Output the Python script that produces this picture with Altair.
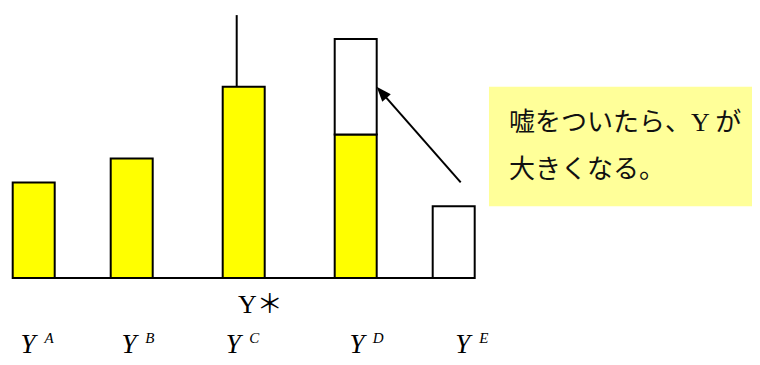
import altair as alt
import pandas as pd

# ---- data ----
CATEGORIES = ["A", "B", "C", "D", "E"]
BAR_POS = [0, 7, 15, 23, 30]          # bar centres (x units)
TRUE_Y = [4, 5, 8, 6, 0]              # yellow (true) part
REPORTED_Y = [4, 5, 8, 10, 3]         # top of bar including the white (lie) part
LABEL_POS = [-0.4, 6.8, 14.25, 23.1, 30.65]
LABEL_Y = -3.14
SUP_Y = -2.74
BAR_HALF = 1.5

YSTAR_LINE_X = 14.5
YSTAR_LINE_Y = [8, 11]
YSTAR_TEXT = "Y＊"
YSTAR_TEXT_POS = [14.59, -1.46]

BASELINE_X = [-1.5, 31.5]

NOTE_BOX_X = [32.52, 53]
NOTE_BOX_Y = [3, 8]
NOTE_LINES = ["嘘をついたら、Y が", "大きくなる。"]
NOTE_LINE_Y = [6.49, 4.5]
NOTE_X = 33.95

ARROW_TAIL = [30.5, 4.0]
ARROW_HEAD = [24.85, 7.77]
ARROW_ANGLE = 319

X_DOMAIN = [-1.836, 51.307]
Y_DOMAIN = [-3.305, 11.297]

xs = alt.Scale(domain=X_DOMAIN, nice=False, zero=False)
ys = alt.Scale(domain=Y_DOMAIN, nice=False, zero=False)

# ---- tables ----
seg_rows = []
for c, p, t, r in zip(CATEGORIES, BAR_POS, TRUE_Y, REPORTED_Y):
    if t > 0:
        seg_rows.append(dict(cat=c, x=p - BAR_HALF, x2=p + BAR_HALF, y=0, y2=t, part="true"))
    if r > t:
        seg_rows.append(dict(cat=c, x=p - BAR_HALF, x2=p + BAR_HALF, y=t, y2=r, part="lie"))
segs = pd.DataFrame(seg_rows)

labels = pd.DataFrame(dict(cat=CATEGORIES, x=LABEL_POS, y=[LABEL_Y] * 5, ys=[SUP_Y] * 5))

W, H = 744, 349

X = lambda f="x:Q": alt.X(f, scale=xs, axis=None)
Y = lambda f="y:Q": alt.Y(f, scale=ys, axis=None)

bars = alt.Chart(segs).mark_rect(stroke="black", strokeWidth=2).encode(
    x=X(), x2="x2:Q", y=Y(), y2="y2:Q",
    fill=alt.Fill("part:N", scale=alt.Scale(domain=["true", "lie"], range=["#FFFF00", "#FFFFFF"]), legend=None),
)

baseline = alt.Chart(pd.DataFrame(dict(x=[BASELINE_X[0]], x2=[BASELINE_X[1]], y=[0]))).mark_rule(
    color="black", strokeWidth=2
).encode(x=X(), x2="x2:Q", y=Y())

ystar_line = alt.Chart(pd.DataFrame(dict(x=[YSTAR_LINE_X], y=[YSTAR_LINE_Y[0]], y2=[YSTAR_LINE_Y[1]]))).mark_rule(
    color="black", strokeWidth=2
).encode(x=X(), y=Y(), y2="y2:Q")

ystar_text = alt.Chart(pd.DataFrame(dict(x=[YSTAR_TEXT_POS[0]], y=[YSTAR_TEXT_POS[1]], t=[YSTAR_TEXT]))).mark_text(
    align="left", baseline="alphabetic", fontSize=26,
    font="Liberation Serif, Noto Sans CJK JP", color="black"
).encode(x=X(), y=Y(), text="t:N")

y_main = alt.Chart(labels).mark_text(
    text="Y", align="center", baseline="alphabetic", fontSize=27, fontStyle="italic",
    font="Liberation Serif", color="black"
).encode(x=X(), y=Y())

y_sup = alt.Chart(labels).mark_text(
    align="center", baseline="alphabetic", fontSize=15, fontStyle="italic", dx=21,
    font="Liberation Serif", color="black"
).encode(x=X(), y=Y("ys:Q"), text="cat:N")

note_box = alt.Chart(pd.DataFrame(dict(x=[NOTE_BOX_X[0]], x2=[NOTE_BOX_X[1]], y=[NOTE_BOX_Y[0]], y2=[NOTE_BOX_Y[1]]))).mark_rect(
    color="#FFFF99", clip=True
).encode(x=X(), x2="x2:Q", y=Y(), y2="y2:Q")

note_text = alt.Chart(pd.DataFrame(dict(x=[NOTE_X] * len(NOTE_LINES), y=NOTE_LINE_Y, t=NOTE_LINES))).mark_text(
    align="left", baseline="middle", fontSize=26,
    font="Liberation Serif, Noto Sans CJK JP", color="#111111"
).encode(x=X(), y=Y(), text="t:N")

arrow_line = alt.Chart(pd.DataFrame(dict(x=[ARROW_TAIL[0]], y=[ARROW_TAIL[1]], x2=[ARROW_HEAD[0]], y2=[ARROW_HEAD[1]]))).mark_rule(
    color="black", strokeWidth=2
).encode(x=X(), y=Y(), x2="x2:Q", y2="y2:Q")

arrow_head = alt.Chart(pd.DataFrame(dict(x=[ARROW_HEAD[0]], y=[ARROW_HEAD[1]]))).mark_point(
    shape="M0,-1L-0.75,1L0.75,1Z", filled=True, color="black", size=225, angle=ARROW_ANGLE, opacity=1
).encode(x=X(), y=Y())

chart = alt.layer(
    note_box, bars, baseline, ystar_line, arrow_line, arrow_head,
    ystar_text, y_main, y_sup, note_text
).properties(
    width=W, height=H, padding=0, background="white",
    autosize=alt.AutoSizeParams(type="none")
).configure_view(stroke=None, strokeWidth=0)

chart.save("out.html", embed_options={"renderer": "svg", "actions": False})
